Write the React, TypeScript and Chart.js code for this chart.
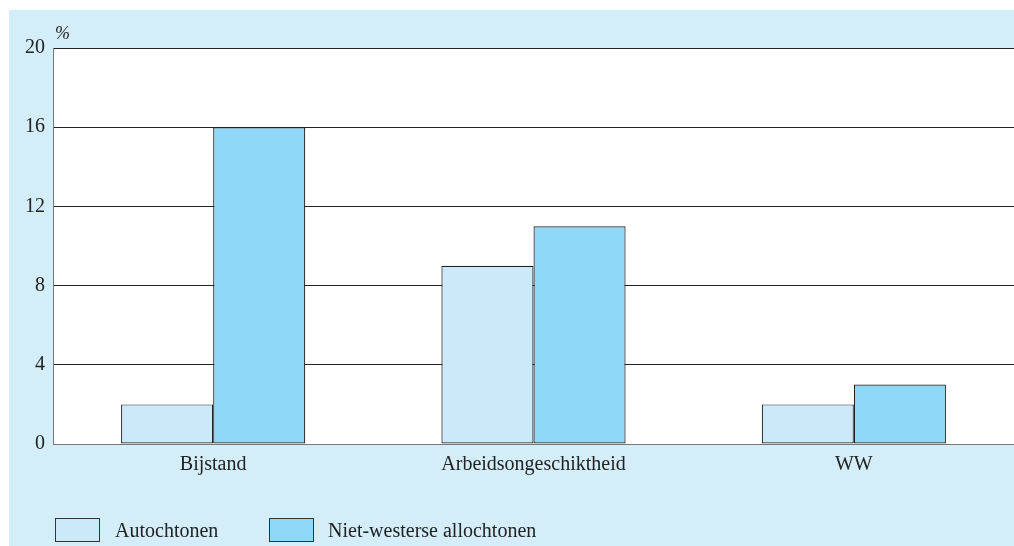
import React, { useEffect, useRef } from "react";
import { Chart, registerables } from "chart.js";

Chart.register(...registerables);

const categories = ["Bijstand", "Arbeidsongeschiktheid", "WW"];
const seriesNames = ["Autochtonen", "Niet-westerse allochtonen"];
const autochtonen = [2, 9, 2];
const nietWesters = [16, 11, 3];
const seriesColors = ["#cbe9f8", "#8fd8f6"];
const yTicks = [0, 4, 8, 12, 16, 20];

const FONT = "'Liberation Serif', 'DejaVu Serif', serif";

export default function App() {
  const ref = useRef<HTMLCanvasElement | null>(null);

  useEffect(() => {
    if (!ref.current) return;
    const areaPlugin = {
      id: "whiteArea",
      beforeDraw(chart: any) {
        const { ctx, chartArea } = chart;
        ctx.save();
        ctx.fillStyle = "#ffffff";
        ctx.fillRect(
          chartArea.left,
          chartArea.top,
          chartArea.right - chartArea.left,
          chartArea.bottom - chartArea.top
        );
        ctx.restore();
      },
      afterDraw(chart: any) {
        const { ctx, chartArea } = chart;
        ctx.save();
        ctx.fillStyle = "#222";
        ctx.font = `italic 18px ${FONT}`;
        ctx.textAlign = "left";
        ctx.textBaseline = "alphabetic";
        ctx.fillText("%", chartArea.left + 2, chartArea.top - 9);
        ctx.restore();
      },
    };
    const chart = new Chart(ref.current, {
      type: "bar",
      data: {
        labels: categories,
        datasets: [
          {
            label: seriesNames[0],
            data: autochtonen,
            backgroundColor: seriesColors[0],
            borderColor: "#222",
            borderWidth: 1.2,
            borderSkipped: false,
            categoryPercentage: 0.575,
            barPercentage: 1,
          },
          {
            label: seriesNames[1],
            data: nietWesters,
            backgroundColor: seriesColors[1],
            borderColor: "#222",
            borderWidth: 1.2,
            borderSkipped: false,
            categoryPercentage: 0.575,
            barPercentage: 1,
          },
        ],
      },
      options: {
        animation: false,
        responsive: false,
        maintainAspectRatio: false,
        layout: { padding: { top: 38, right: 0, left: 0, bottom: 0 } },
        plugins: {
          legend: { display: false },
          tooltip: { enabled: false },
        },
        scales: {
          x: {
            grid: { display: false, drawTicks: false },
            border: { display: true, color: "#777", width: 1 },
            ticks: {
              color: "#222",
              font: { family: FONT, size: 20 },
              padding: 9,
            },
            afterFit(scale: any) {
              scale.height = 102;
            },
          },
          y: {
            min: 0,
            max: 20,
            afterBuildTicks(scale: any) {
              scale.ticks = yTicks.map((v) => ({ value: v }));
            },
            grid: { color: "#222", lineWidth: 1, drawTicks: false },
            border: { display: true, color: "#777", width: 1 },
            ticks: {
              color: "#222",
              font: { family: FONT, size: 20 },
              padding: 8,
            },
            afterFit(scale: any) {
              scale.width = 44;
            },
          },
        },
      },
      plugins: [areaPlugin],
    });
    return () => chart.destroy();
  }, []);

  const legendItem = (i: number, left: number, textLeft: number) => (
    <React.Fragment key={i}>
      <div
        style={{
          position: "absolute",
          left,
          top: 508,
          width: 45,
          height: 24,
          background: seriesColors[i],
          border: "1px solid #333",
          boxSizing: "border-box",
        }}
      />
      <div
        style={{
          position: "absolute",
          left: textLeft,
          top: 508,
          fontFamily: FONT,
          fontSize: 20,
          color: "#222",
          lineHeight: "24px",
          whiteSpace: "nowrap",
        }}
      >
        {seriesNames[i]}
      </div>
    </React.Fragment>
  );

  return (
    <div
      style={{
        position: "absolute",
        left: 9,
        top: 10,
        width: 1005,
        height: 536,
        background: "#d3edf9",
        overflow: "hidden",
      }}
    >
      <canvas
        ref={ref}
        width={1005}
        height={536}
        style={{ position: "absolute", left: 0, top: 0, width: 1005, height: 536 }}
      />
      {legendItem(0, 46, 106)}
      {legendItem(1, 260, 319)}
    </div>
  );
}
